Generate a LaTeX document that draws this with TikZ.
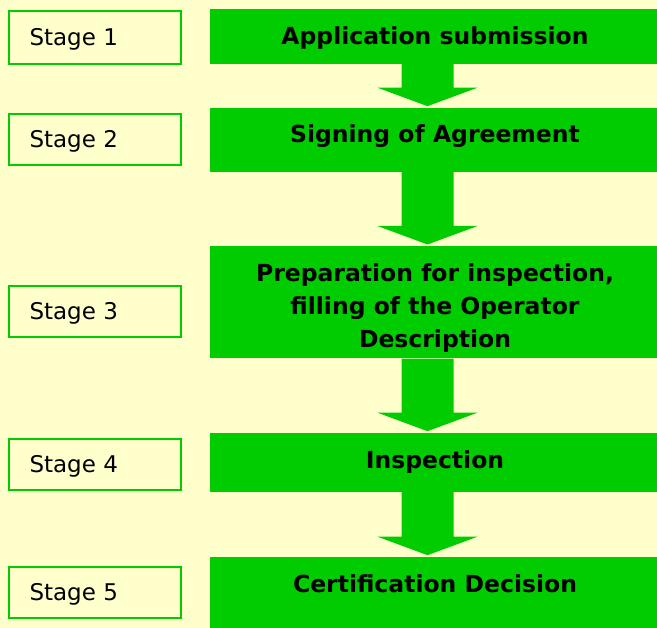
\documentclass[tikz,border=0pt]{standalone}
\usepackage{fontspec}
\setmainfont{DejaVu Sans}
\usetikzlibrary{calc}
\definecolor{bgyellow}{HTML}{FFFFCC}
\definecolor{stagegreen}{HTML}{00CC00}
\newcommand\blockarrow[2]{%
  \fill[arr] let \p1=(#1.south), \p2=(#2.north) in
    (401.5pt,\y1) -- (453.5pt,\y1) -- (453.5pt,\y2+20pt) -- (477.5pt,\y2+20pt)
    -- (427.5pt,\y2+1.5pt) -- (377.5pt,\y2+20pt) -- (401.5pt,\y2+20pt) -- cycle;}
\begin{document}
\begin{tikzpicture}[x=1pt,y=-1pt,
  gbox/.style={fill=stagegreen, draw=none, inner sep=0pt, anchor=north west},
  sbox/.style={draw=stagegreen, line width=2pt, fill=bgyellow, inner sep=0pt, anchor=north west,
    minimum width=172pt},
  stxt/.style={anchor=base west, inner sep=0pt, font=\fontsize{23}{27}\selectfont},
  btxt/.style={anchor=base, inner sep=0pt, font=\fontsize{23.5}{33.3}\selectfont\bfseries, align=center},
  arr/.style={fill=stagegreen}]
\fill[bgyellow] (0,0) rectangle (657,628);
\useasboundingbox (0,0) rectangle (657,628);
% green process boxes
\node[gbox, minimum width=447pt, minimum height=54.2pt] (b1) at (210,9.3) {};
\node[gbox, minimum width=447pt, minimum height=64pt] (b2) at (210,107.7) {};
\node[gbox, minimum width=447pt, minimum height=112.3pt] (b3) at (210,246) {};
\node[gbox, minimum width=447pt, minimum height=58.8pt] (b4) at (210,432.7) {};
\node[gbox, minimum width=447pt, minimum height=71.3pt] (b5) at (210,556.7) {};
% texts
\node[btxt] (t1) at (435,44.3) {Application submission};
\node[btxt] (t2) at (435,142.2) {Signing of Agreement};
\node[btxt, anchor=north] (t3) at (435,263.3) {Preparation for inspection,\\filling of the Operator\\Description};
\node[btxt] (t4) at (435,468.5) {Inspection};
\node[btxt] (t5) at (435,592.3) {Certification Decision};
% stage boxes
\node[sbox, minimum height=52.7pt] (s1) at (8.3,10.3) {};
\node[sbox, minimum height=51.3pt] (s2) at (8.3,112.7) {};
\node[sbox, minimum height=50.7pt] (s3) at (8.3,285) {};
\node[sbox, minimum height=51.3pt] (s4) at (8.3,437.7) {};
\node[sbox, minimum height=51pt] (s5) at (8.3,566) {};
\node[stxt] (l1) at (29.3,45.7) {Stage 1};
\node[stxt] (l2) at (29.3,147.7) {Stage 2};
\node[stxt] (l3) at (29.3,320) {Stage 3};
\node[stxt] (l4) at (29.3,472.7) {Stage 4};
\node[stxt] (l5) at (29.3,601) {Stage 5};
% block arrows
\blockarrow{b1}{b2}
\blockarrow{b2}{b3}
\blockarrow{b3}{b4}
\blockarrow{b4}{b5}
\end{tikzpicture}
\end{document}
